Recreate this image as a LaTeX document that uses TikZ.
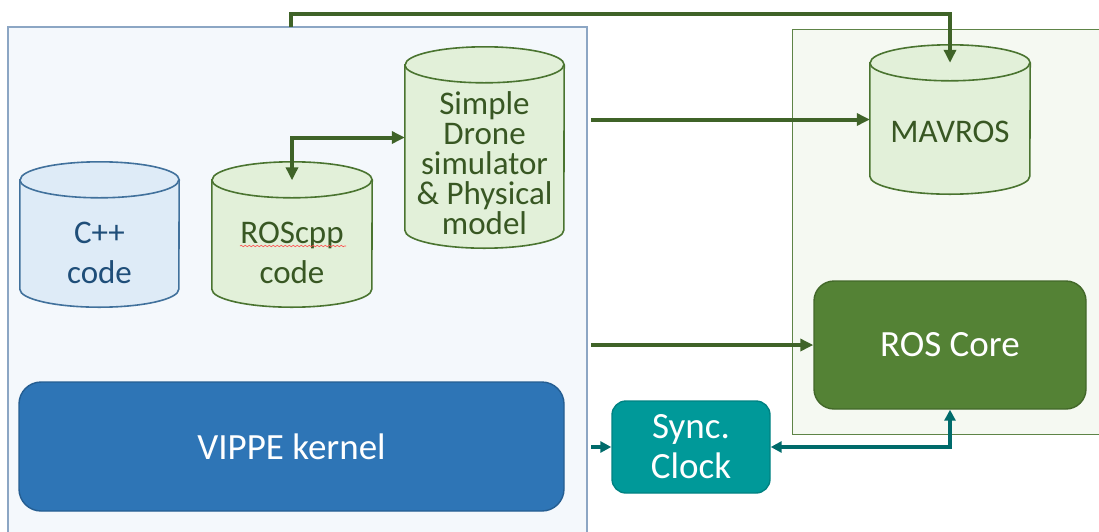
\documentclass[tikz,border=0pt]{standalone}
\usepackage{fontspec}
\setmainfont{Carlito}
\usepackage{xcolor}
\usetikzlibrary{
  arrows.meta,
  calc,
  positioning,
  decorations.pathmorphing
}
\definecolor{panelblue}{HTML}{F4F8FC}
\definecolor{panelblueline}{HTML}{8CA6C4}
\definecolor{panelgreen}{HTML}{F5F9F2}
\definecolor{panelgreenline}{HTML}{5E8447}
\definecolor{cylblue}{HTML}{DEEBF7}
\definecolor{cylblueline}{HTML}{41719C}
\definecolor{textblue}{HTML}{1F4E79}
\definecolor{cylgreen}{HTML}{E2F0D9}
\definecolor{cylgreenline}{HTML}{4A7430}
\definecolor{textgreen}{HTML}{385723}
\definecolor{rosgreen}{HTML}{548235}
\definecolor{syncteal}{HTML}{009999}
\definecolor{vippeblue}{HTML}{2E75B6}
\definecolor{arrowgreen}{HTML}{3F6328}
\definecolor{arrowteal}{HTML}{006B6B}
\tikzset{
  >=stealth,
  line cap=round,
  line join=round,
  bluecyl/.style={draw=cylblueline, fill=cylblue, line width=1.6pt},
  greencyl/.style={draw=cylgreenline, fill=cylgreen, line width=1.6pt},
  cyltext/.style={align=center, font=\fontsize{33}{30}\selectfont},
  block/.style={draw, rounded corners=20pt, align=center, text=white,
    line width=1.4pt, font=\fontsize{37}{40}\selectfont},
  garrow/.style={-{Triangle[length=13pt,width=12pt]}, line width=4pt, draw=arrowgreen, line cap=butt},
  tarrow/.style={-{Triangle[length=11pt,width=11pt]}, line width=3.6pt, draw=arrowteal, line cap=butt}
}
% drum: name, x, y, width, height, half width, style
\newcommand{\drum}[7]{%
  \node[inner sep=0pt, minimum width=#4pt, minimum height=#5pt] (#1) at (#2,#3) {};
  \draw[#7] ($(#1.north west)+(0,18)$) -- ($(#1.south west)+(0,-18)$)
    arc[start angle=180, end angle=360, x radius=#6pt, y radius=18pt]
    -- ($(#1.north east)+(0,18)$)
    arc[start angle=0, end angle=180, x radius=#6pt, y radius=18pt] -- cycle;
  \draw[#7, fill=none] ($(#1.north west)+(0,18)$)
    arc[start angle=180, end angle=360, x radius=#6pt, y radius=18pt];
}
\begin{document}
\begin{tikzpicture}[x=1pt,y=-1pt]
    \useasboundingbox (0,0) rectangle (1099,531);

    % panels
    \draw[fill=panelblue, draw=panelblueline, line width=1.6pt] (8,27) rectangle (587,545);
    \draw[fill=panelgreen, draw=panelgreenline, line width=1pt] (792,29) rectangle (1115,434);

    % cylinders
    \drum{cpp}{99.5}{234.5}{159}{145}{79.5}{bluecyl}
    \drum{roscpp}{292}{234.5}{160}{145}{80}{greencyl}
    \drum{drone}{484.5}{147.5}{159}{201}{79.5}{greencyl}
    \drum{mavros}{950}{119.5}{160}{149}{80}{greencyl}

    \node[cyltext, text=textblue] (cpptext) at ($(cpp.center)+(0,18.5)$) {C++\\[10pt]code};
    \node[cyltext, text=textgreen] (roscpptext) at ($(roscpp.center)+(0,18.5)$) {ROScpp\\[10pt]code};
    \node[cyltext, text=textgreen] (dronetext) at ($(drone.center)+(0,15.5)$)
      {Simple\\Drone\\simulator\\\& Physical\\model};
    \node[cyltext, text=textgreen] (mavrostext) at ($(mavros.center)+(0,12)$) {MAVROS};
    \draw[red!70, line width=0.6pt, decorate, decoration={snake, amplitude=0.7pt, segment length=4pt}]
      (240,246) -- (346,246);

    % blocks
    \node[block, fill=rosgreen, draw=rosgreen!80!black, minimum width=272pt, minimum height=128pt] (roscore) at (950,345) {ROS Core};
    \node[block, fill=syncteal, draw=syncteal!85!black, rounded corners=14pt, minimum width=158pt, minimum height=92pt,
      font=\fontsize{37}{40}\selectfont] (sync) at (691,447) {Sync.\\Clock};
    \node[block, fill=vippeblue, draw=vippeblue!80!black, rounded corners=22pt, minimum width=545pt, minimum height=129pt] (vippe) at (291.5,446.5) {VIPPE kernel};

    % connectors
    \coordinate (topout) at (291,27);
    \coordinate (mavout) at (591,119.5);
    \coordinate (rosout) at (591,345);
    \coordinate (syncout) at (591,447);
    \draw[garrow] (topout) -- (291,14) -| ($(mavros.north)+(0,18)$);
    \draw[garrow, {Triangle[length=13pt,width=12pt]}-{Triangle[length=13pt,width=12pt]}]
      ($(roscpp.north)+(0,18.5)$) |- ($(drone.west)+(0,-10)$);
    \draw[garrow] (mavout) -- (mavros.west);
    \draw[garrow] (rosout) -- (roscore.west);
    \draw[tarrow] (syncout) -- (sync.west);
    \draw[tarrow, {Triangle[length=11pt,width=11pt]}-{Triangle[length=11pt,width=11pt]}]
      (sync.east) -| (roscore.south);
\end{tikzpicture}
\end{document}
